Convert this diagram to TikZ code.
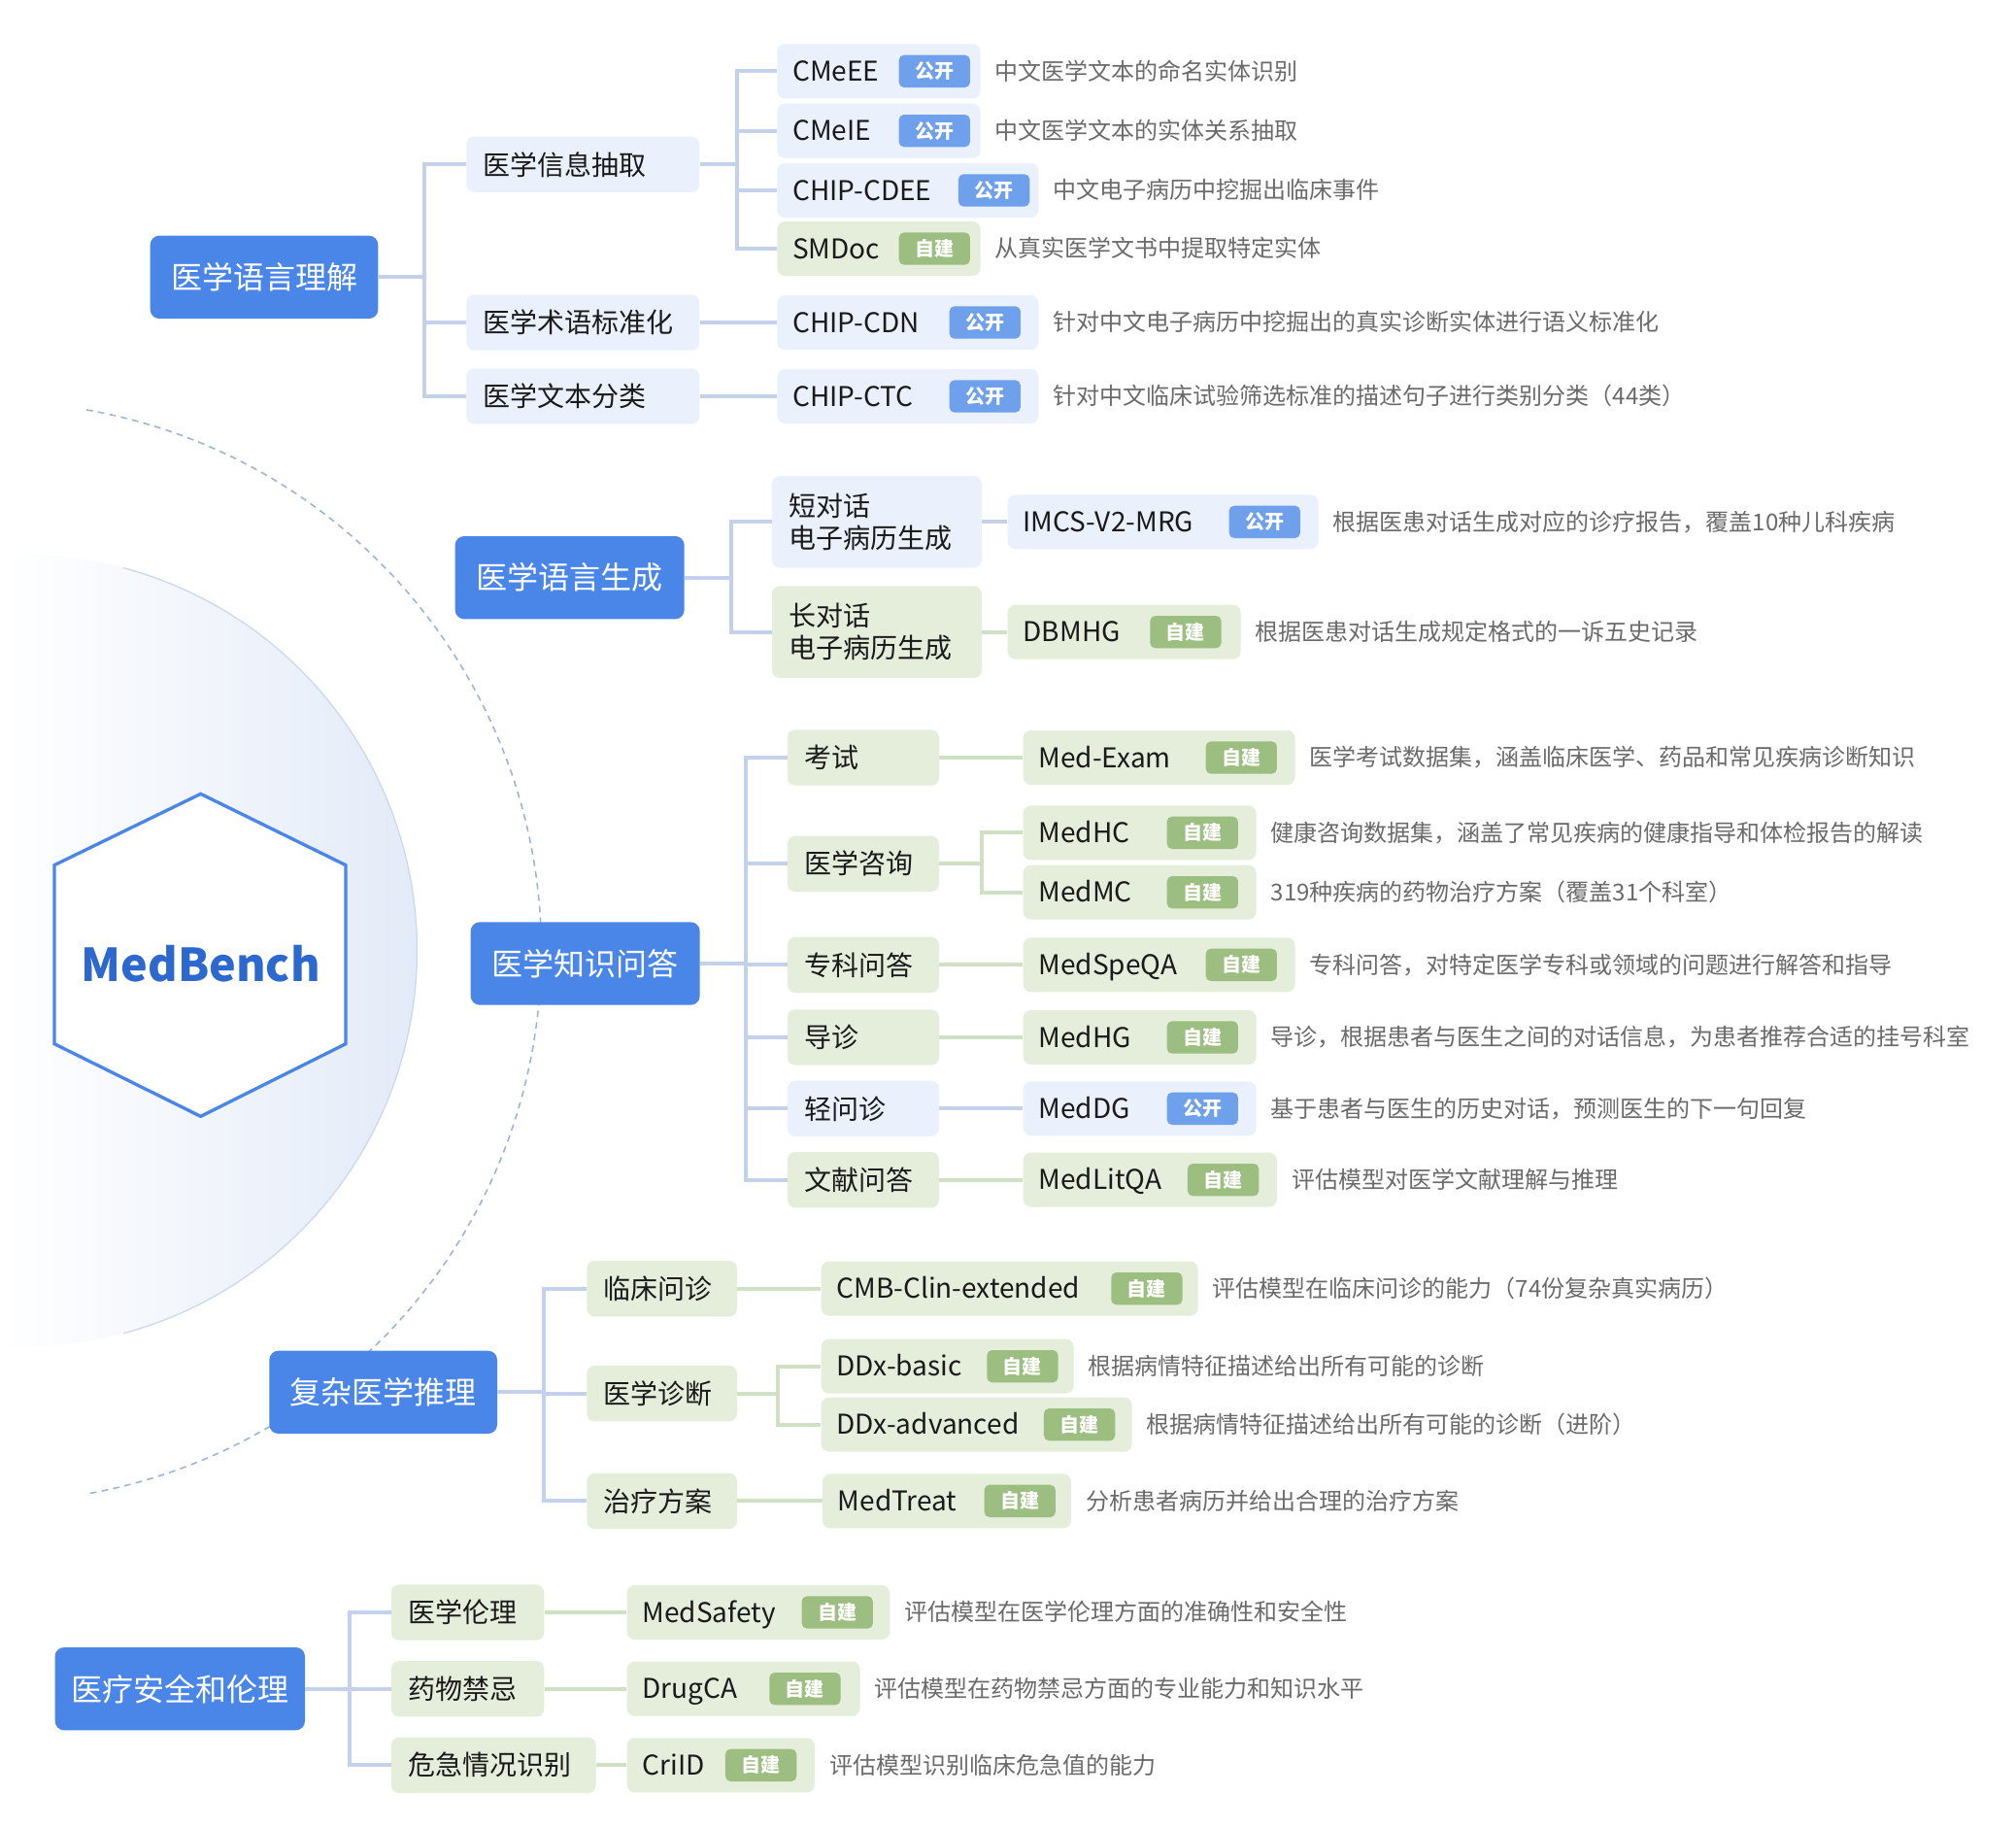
\documentclass[tikz,border=0pt]{standalone}
\usepackage{fontspec}
\setmainfont{Noto Sans CJK SC}
\usetikzlibrary{positioning}

\definecolor{mainblue}{HTML}{4A86E8}
\definecolor{benchblue}{HTML}{2D68CF}
\definecolor{bluebg}{HTML}{EAF1FC}
\definecolor{greenbg}{HTML}{E5EDDB}
\definecolor{bluetag}{HTML}{6EA0EB}
\definecolor{greentag}{HTML}{9CBE80}
\definecolor{blueline}{HTML}{C3D1EA}
\definecolor{greenline}{HTML}{D0E0C2}
\definecolor{descgray}{HTML}{6A6A6A}
\definecolor{circblue}{HTML}{E3EBF8}
\definecolor{circedge}{HTML}{CBD9F0}
\definecolor{arcblue}{HTML}{9DB4DA}
\definecolor{darktext}{HTML}{1A1A1A}

\begin{document}
\begin{tikzpicture}[x=1pt, y=-1pt,
    topic/.style={rounded corners=7pt, fill=mainblue, text=white, inner sep=0pt,
        minimum height=64pt, font=\fontsize{24}{28}\selectfont},
    cat/.style={rounded corners=6pt, anchor=west, inner xsep=13pt, inner ysep=0pt,
        minimum height=43pt, align=left, text=darktext, font=\fontsize{21}{25}\selectfont},
    bluecat/.style={cat, fill=bluebg},
    greencat/.style={cat, fill=greenbg},
    item/.style={rounded corners=6pt, anchor=west, inner sep=0pt, minimum height=42pt},
    dname/.style={anchor=west, inner sep=0pt, text height=16pt, text depth=1pt,
        text=darktext, font=\fontsize{21}{25}\selectfont},
    tag/.style={rounded corners=4pt, inner sep=0pt, minimum width=55pt, minimum height=25pt,
        text=white, font=\fontsize{15}{15}\selectfont\bfseries},
    desc/.style={inner sep=0pt, text height=15pt, text depth=2pt, text=descgray,
        font=\fontsize{18}{22}\selectfont},
    bline/.style={draw=blueline, line width=3pt},
    gline/.style={draw=greenline, line width=3pt}]

    %% page size
    \useasboundingbox (0,0) rectangle (1557,1411);

    %% badge texts and one dataset box
    \def\tagblue{公开}
    \def\taggreen{自建}
    \def\dataset#1#2#3#4#5#6#7#8{%
        \node[item, fill=#6bg, minimum width=#4pt] (#1) at (#2,#3) {};
        \node[dname] (#1-name) at ([xshift=12pt]#1.west) {#7};
        \node[tag, fill=#6tag, left=#5pt of #1.east] (#1-tag) {\csname tag#6\endcsname};
        \node[desc, right=11pt of #1] (#1-desc) {#8};
    }

    %% background circle and dashed arc
    \begin{scope}
        \clip (16,734) circle[radius=306pt];
        \shade[left color=white, right color=circblue] (0,420) rectangle (322,1050);
    \end{scope}
    \draw[circedge, line width=1pt] (16,734) ++(75:306pt) arc[start angle=75, end angle=-75, radius=306pt];
    \draw[arcblue, line width=1.2pt, dash pattern=on 5pt off 4pt] (-7,735) ++(80:425pt)
        arc[start angle=80, end angle=-80, radius=425pt];

    %% hexagon
    \draw[mainblue, line width=2.5pt, fill=white] (155,613) -- (267,668) -- (267,806)
        -- (155,862) -- (42,806) -- (42,668) -- cycle;
    \node[font=\fontsize{35}{40}\selectfont\bfseries, text=benchblue] (bench) at (155,744) {MedBench};

    %% main topics
    \node[topic, minimum width=176pt] (lu) at (204,214) {医学语言理解};
    \node[topic, minimum width=177pt] (lg) at (440,446) {医学语言生成};
    \node[topic, minimum width=177pt] (qa) at (452,744) {医学知识问答};
    \node[topic, minimum width=176pt] (re) at (296,1075) {复杂医学推理};
    \node[topic, minimum width=193pt] (se) at (139,1304) {医疗安全和伦理};

    %% sub topics
    \node[bluecat, text width=154pt] (ie) at (360,127) {医学信息抽取};
    \node[bluecat, text width=154pt] (term) at (360,249) {医学术语标准化};
    \node[bluecat, text width=154pt] (cls) at (360,306) {医学文本分类};

    \node[bluecat, text width=136pt, minimum height=71pt] (short) at (596,403) {短对话\\电子病历生成};
    \node[greencat, text width=136pt, minimum height=71pt] (long) at (596,488) {长对话\\电子病历生成};

    \node[greencat, text width=91pt] (exam) at (608,585) {考试};
    \node[greencat, text width=91pt] (consult) at (608,667) {医学咨询};
    \node[greencat, text width=91pt] (spec) at (608,745) {专科问答};
    \node[greencat, text width=91pt] (guide) at (608,801) {导诊};
    \node[bluecat, text width=91pt] (light) at (608,856) {轻问诊};
    \node[greencat, text width=91pt] (lit) at (608,911) {文献问答};

    \node[greencat, text width=90pt] (clin) at (453,995) {临床问诊};
    \node[greencat, text width=90pt] (diag) at (453,1076) {医学诊断};
    \node[greencat, text width=90pt] (treat) at (453,1159) {治疗方案};

    \node[greencat, text width=92pt] (eth) at (302,1245) {医学伦理};
    \node[greencat, text width=92pt] (drug) at (302,1304) {药物禁忌};
    \node[greencat, text width=132pt] (crit) at (302,1363) {危急情况识别};

    %% datasets
    \dataset{cmeee}{600}{55}{157}{8}{blue}{CMeEE}{中文医学文本的命名实体识别}
    \dataset{cmeie}{600}{101}{157}{8}{blue}{CMeIE}{中文医学文本的实体关系抽取}
    \dataset{cdee}{600}{147}{202}{7}{blue}{CHIP-CDEE}{中文电子病历中挖掘出临床事件}
    \dataset{smdoc}{600}{192}{157}{8}{green}{SMDoc}{从真实医学文书中提取特定实体}
    \dataset{cdn}{600}{249}{202}{14}{blue}{CHIP-CDN}{针对中文电子病历中挖掘出的真实诊断实体进行语义标准化}
    \dataset{ctc}{600}{306}{202}{14}{blue}{CHIP-CTC}{针对中文临床试验筛选标准的描述句子进行类别分类（44类）}

    \dataset{imcs}{778}{403}{240}{14}{blue}{IMCS-V2-MRG}{根据医患对话生成对应的诊疗报告，覆盖10种儿科疾病}
    \dataset{dbmhg}{778}{488}{180}{15}{green}{DBMHG}{根据医患对话生成规定格式的一诉五史记录}

    \dataset{medexam}{790}{585}{210}{14}{green}{Med-Exam}{医学考试数据集，涵盖临床医学、药品和常见疾病诊断知识}
    \dataset{medhc}{790}{643}{180}{14}{green}{MedHC}{健康咨询数据集，涵盖了常见疾病的健康指导和体检报告的解读}
    \dataset{medmc}{790}{689}{180}{14}{green}{MedMC}{319种疾病的药物治疗方案（覆盖31个科室）}
    \dataset{speqa}{790}{745}{210}{14}{green}{MedSpeQA}{专科问答，对特定医学专科或领域的问题进行解答和指导}
    \dataset{medhg}{790}{801}{180}{14}{green}{MedHG}{导诊，根据患者与医生之间的对话信息，为患者推荐合适的挂号科室}
    \dataset{meddg}{790}{856}{180}{14}{blue}{MedDG}{基于患者与医生的历史对话，预测医生的下一句回复}
    \dataset{litqa}{790}{911}{196}{14}{green}{MedLitQA}{评估模型对医学文献理解与推理}

    \dataset{cmb}{634}{995}{291}{12}{green}{CMB-Clin-extended}{评估模型在临床问诊的能力（74份复杂真实病历）}
    \dataset{ddxb}{634}{1055}{195}{12}{green}{DDx-basic}{根据病情特征描述给出所有可能的诊断}
    \dataset{ddxa}{634}{1100}{240}{13}{green}{DDx-advanced}{根据病情特征描述给出所有可能的诊断（进阶）}
    \dataset{medtreat}{635}{1159}{192}{12}{green}{MedTreat}{分析患者病历并给出合理的治疗方案}

    \dataset{safety}{484}{1245}{203}{13}{green}{MedSafety}{评估模型在医学伦理方面的准确性和安全性}
    \dataset{drugca}{484}{1304}{180}{15}{green}{DrugCA}{评估模型在药物禁忌方面的专业能力和知识水平}
    \dataset{crild}{484}{1363}{145}{14}{green}{CriID}{评估模型识别临床危急值的能力}

    %% connectors: language understanding
    \coordinate (lu-bus) at (328,214);
    \draw[bline] (lu.east) -- (lu-bus) (lu-bus) |- (ie.west) (lu-bus) |- (term.west) (lu-bus) |- (cls.west);
    \coordinate (ie-bus) at (569,127);
    \draw[bline] (ie.east) -- (ie-bus) (ie-bus) |- (cmeee.west) (ie-bus) |- (cmeie.west)
        (ie-bus) |- (cdee.west) (ie-bus) |- (smdoc.west);
    \draw[bline] (term.east) -- (cdn.west);
    \draw[bline] (cls.east) -- (ctc.west);

    %% connectors: language generation
    \coordinate (lg-bus) at (565,446);
    \draw[bline] (lg.east) -- (lg-bus) (lg-bus) |- (short.west) (lg-bus) |- (long.west);
    \draw[bline] (short.east) -- (imcs.west);
    \draw[gline] (long.east) -- (dbmhg.west);

    %% connectors: knowledge QA
    \coordinate (qa-bus) at (576,744);
    \draw[bline] (qa.east) -- (qa-bus) (qa-bus) |- (exam.west) (qa-bus) |- (consult.west)
        (qa-bus) |- (spec.west) (qa-bus) |- (guide.west) (qa-bus) |- (light.west) (qa-bus) |- (lit.west);
    \draw[gline] (exam.east) -- (medexam.west);
    \coordinate (con-bus) at (758,667);
    \draw[gline] (consult.east) -- (con-bus) (con-bus) |- (medhc.west) (con-bus) |- (medmc.west);
    \draw[gline] (spec.east) -- (speqa.west);
    \draw[gline] (guide.east) -- (medhg.west);
    \draw[bline] (light.east) -- (meddg.west);
    \draw[gline] (lit.east) -- (litqa.west);

    %% connectors: reasoning
    \coordinate (re-bus) at (420,1075);
    \draw[bline] (re.east) -- (re-bus) (re-bus) |- (clin.west) (re-bus) |- (diag.west) (re-bus) |- (treat.west);
    \draw[gline] (clin.east) -- (cmb.west);
    \coordinate (dx-bus) at (601,1076);
    \draw[gline] (diag.east) -- (dx-bus) (dx-bus) |- (ddxb.west) (dx-bus) |- (ddxa.west);
    \draw[gline] (treat.east) -- (medtreat.west);

    %% connectors: safety and ethics
    \coordinate (se-bus) at (270,1304);
    \draw[bline] (se.east) -- (se-bus) (se-bus) |- (eth.west) (se-bus) |- (drug.west) (se-bus) |- (crit.west);
    \draw[gline] (eth.east) -- (safety.west);
    \draw[gline] (drug.east) -- (drugca.west);
    \draw[gline] (crit.east) -- (crild.west);
\end{tikzpicture}
\end{document}
